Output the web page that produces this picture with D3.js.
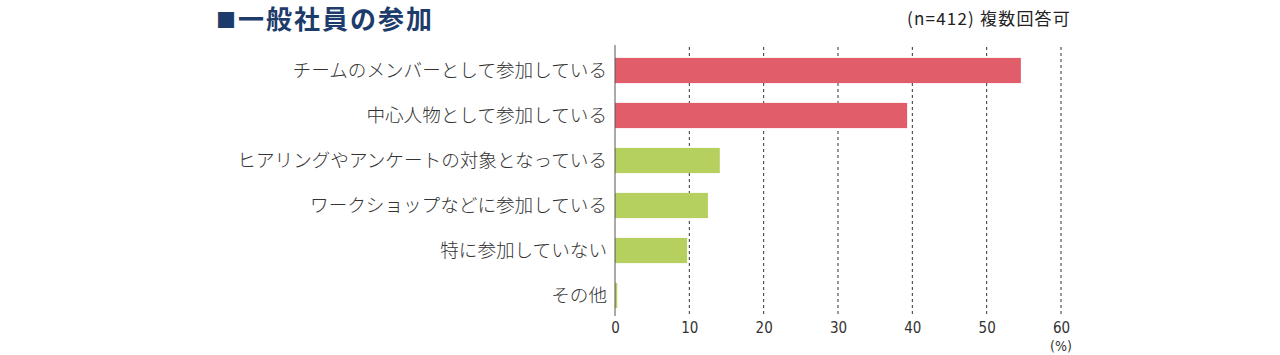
<!DOCTYPE html>
<html><head><meta charset="utf-8">
<script src="https://cdn.jsdelivr.net/npm/d3@7"></script>
<style>
html,body{margin:0;padding:0;background:#fff;}
svg{display:block;}
</style></head>
<body>
<svg id="chart" width="1280" height="355"></svg>
<script>
const categories = ["チームのメンバーとして参加している","中心人物として参加している","ヒアリングやアンケートの対象となっている","ワークショップなどに参加している","特に参加していない","その他"];
const values = [54.6, 39.3, 14.1, 12.5, 9.7, 0.3];
const groups = ["red","red","green","green","green","green"];
const ticks = [0,10,20,30,40,50,60];
const titleMark = "■";
const title = "一般社員の参加";
const note = "(n=412) 複数回答可";
const unit = "(%)";

const svg = d3.select("#chart");
const jp = "'Noto Sans CJK JP','Noto Sans',sans-serif";
const num = "'DejaVu Sans Condensed','Roboto',sans-serif";
const x = d3.scaleLinear().domain([0,60]).range([615,1061]);
const y = d3.scaleBand().domain(categories).range([48,318]).paddingInner(0.44).paddingOuter(0.22);
const color = d3.scaleOrdinal().domain(["red","green"]).range(["#e15d6a","#b5d05e"]);

svg.append("text").attr("x",216).attr("y",28).attr("font-family",jp).attr("font-weight",700)
  .attr("font-size",20).attr("fill","#1d3c6b").text(titleMark);
svg.append("text").attr("x",238).attr("y",29).attr("font-family",jp).attr("font-weight",700)
  .attr("font-size",26).attr("letter-spacing",2).attr("fill","#1d3c6b").text(title);
svg.append("text").attr("x",1071).attr("y",25).attr("text-anchor","end").attr("font-family",jp)
  .attr("font-size",17).attr("letter-spacing",1.2).attr("fill","#222").text(note);

// gridlines
svg.append("g").selectAll("line").data(ticks.slice(1)).join("line")
  .attr("x1",d=>x(d)).attr("x2",d=>x(d)).attr("y1",47).attr("y2",316)
  .attr("stroke","#333").attr("stroke-width",1).attr("stroke-dasharray","3,3");

// bars
svg.append("g").selectAll("rect").data(values).join("rect")
  .attr("x",x(0)).attr("y",(d,i)=>y(categories[i]))
  .attr("width",d=>x(d)-x(0)).attr("height",y.bandwidth())
  .attr("fill",(d,i)=>color(groups[i]));

// axis line
svg.append("line").attr("x1",x(0)).attr("x2",x(0)).attr("y1",45).attr("y2",316)
  .attr("stroke","#555").attr("stroke-width",1);

// category labels
svg.append("g").selectAll("text").data(categories).join("text")
  .attr("x",607).attr("y",d=>y(d)+y.bandwidth()/2).attr("dy","0.36em")
  .attr("text-anchor","end").attr("font-family",jp).attr("font-weight",300).attr("font-size",18.6).attr("fill","#333")
  .text(d=>d);

// tick labels
const xAxis = d3.axisBottom(x).tickValues(ticks).tickSize(0).tickPadding(0);
const ag = svg.append("g").attr("transform","translate(0,322)").call(xAxis);
ag.select(".domain").remove();
ag.selectAll("text").attr("font-family",num)
  .attr("font-size",15).attr("fill","#333").attr("dy","0.71em");

svg.append("text").attr("x",x(60)).attr("y",351).attr("text-anchor","middle")
  .attr("font-family",num).attr("font-size",14).attr("fill","#333").text(unit);
</script>
</body></html>
